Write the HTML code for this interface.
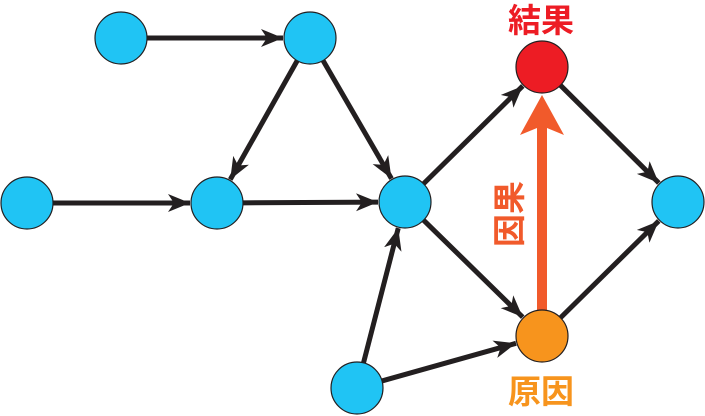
<!DOCTYPE html>
<html><head><meta charset="utf-8"><style>
html,body{margin:0;padding:0;background:#fff;}
svg{display:block;}
text{font-family:"Liberation Sans","Noto Sans CJK JP",sans-serif;font-weight:bold;}
</style></head><body>
<svg id="s" width="705" height="416" viewBox="0 0 705 416" xmlns="http://www.w3.org/2000/svg">
<defs>
<marker id="ah" markerUnits="userSpaceOnUse" markerWidth="24" markerHeight="20" refX="22" refY="9" orient="auto">
<path d="M0,0 L22,9 L0,18 L6,9 z" fill="#231f20"/>
</marker>
</defs>
<g id="edges"></g>
<path d="M542,95 L564,135 L547,128 L547,310 L537,310 L537,128 L520,135 z" fill="#f15a2b"/>
<g id="nodes"></g>
<text x="541" y="32" font-size="33" fill="#ed1c24" text-anchor="middle">結果</text>
<text x="541" y="403" font-size="33" fill="#f7941d" text-anchor="middle">原因</text>
<text transform="translate(521,214) rotate(-90)" font-size="33" fill="#f15a2b" text-anchor="middle">因果</text>
</svg>
<script>
var N={A:[121,38],B:[310,38],C:[27,203],D:[217,203],E:[405,202],F:[542,67],G:[678,202],H:[542,336],I:[357,388]};
var r=26;
var E=[["A","B"],["B","D"],["B","E"],["C","D"],["D","E"],["E","F"],["E","H"],["I","E"],["I","H"],["F","G"],["H","G"]];
var ns="http://www.w3.org/2000/svg";
var ge=document.getElementById("edges"),gn=document.getElementById("nodes");
E.forEach(function(e){var a=N[e[0]],b=N[e[1]];var dx=b[0]-a[0],dy=b[1]-a[1],L=Math.hypot(dx,dy);var ux=dx/L,uy=dy/L;
var l=document.createElementNS(ns,"line");
l.setAttribute("x1",a[0]+ux*r);l.setAttribute("y1",a[1]+uy*r);
l.setAttribute("x2",b[0]-ux*(r+1));l.setAttribute("y2",b[1]-uy*(r+1));
l.setAttribute("stroke","#231f20");l.setAttribute("stroke-width","5");l.setAttribute("marker-end","url(#ah)");ge.appendChild(l);});
for(var k in N){var c=document.createElementNS(ns,"circle");c.setAttribute("cx",N[k][0]);c.setAttribute("cy",N[k][1]);c.setAttribute("r",r);
c.setAttribute("fill",k=="F"?"#ed1c24":k=="H"?"#f7941d":"#20c4f4");c.setAttribute("stroke","#231f20");c.setAttribute("stroke-width","1.2");gn.appendChild(c);}
</script>
</body></html>
